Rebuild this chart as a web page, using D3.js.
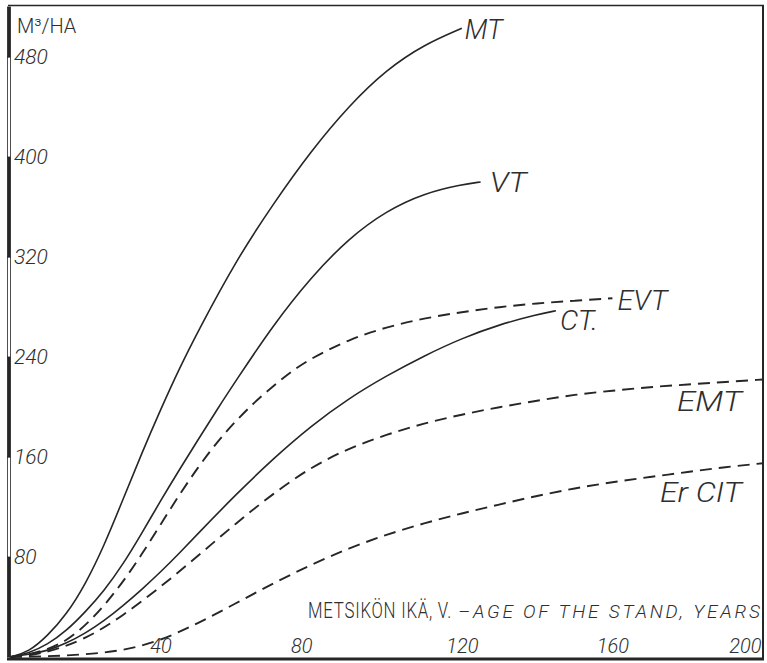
<!DOCTYPE html>
<html>
<head>
<meta charset="utf-8">
<script src="https://cdn.jsdelivr.net/npm/d3@7"></script>
<style>
  html, body { margin: 0; padding: 0; background: #fff; }
  svg { display: block; }
  text { font-family: Roboto, "Liberation Sans", sans-serif; font-weight: 300; fill: #2e2e2e; }
  .lbl { font-style: italic; }
  .tick text { font-style: italic; }
</style>
</head>
<body>
<script>
// Growing stock (m³/ha) by stand age for each forest site type
const ages_MT    = [0, 5, 10, 15, 20, 25, 30, 35, 40, 45, 50, 60, 70, 80, 90, 100, 110, 120];
const volume_MT  = [0, 4, 17, 34, 58, 89, 126, 163, 198, 231, 261, 317, 363, 405, 441, 470, 490, 503];

const ages_VT    = [0, 5, 10, 15, 20, 25, 30, 35, 40, 45, 50, 55, 60, 70, 80, 90, 100, 110, 120, 125];
const volume_VT  = [0, 3, 10, 21, 36, 53, 74, 99, 125, 150, 174, 198, 221, 266, 304, 335, 357, 371, 378, 380];

const ages_EVT   = [0, 5, 10, 15, 20, 25, 30, 35, 40, 45, 50, 55, 60, 65, 70, 75, 80, 90, 100, 110, 120, 130, 140, 150, 160];
const volume_EVT = [0, 2, 6, 13, 25, 41, 60, 82, 106, 130, 152, 172, 189, 204, 217, 229, 239, 254, 264, 271, 276, 280, 283, 285, 287];

const ages_CT    = [0, 5, 10, 15, 20, 25, 30, 35, 40, 45, 50, 60, 70, 80, 90, 100, 110, 120, 130, 140, 145];
const volume_CT  = [0, 2, 5, 11, 19, 29, 41, 54, 68, 83, 99, 130, 159, 185, 207, 225, 241, 255, 266, 274, 277];

const ages_EMT   = [0, 5, 10, 20, 30, 40, 50, 60, 70, 80, 90, 100, 110, 120, 130, 140, 150, 160, 170, 180, 190, 200];
const volume_EMT = [0, 1, 4, 14, 33, 56, 81, 107, 131, 152, 167, 178, 187, 194, 200, 205, 210, 213, 216, 218, 220, 222];

const ages_ErCIT   = [0, 10, 20, 30, 40, 50, 60, 70, 80, 90, 100, 110, 120, 130, 140, 150, 160, 170, 180, 190, 200];
const volume_ErCIT = [0, 0.5, 2, 5, 13, 27, 43, 59, 74, 87, 98, 107, 115, 122, 129, 135, 140, 144, 148, 152, 155];

const seriesNames = ["MT", "VT", "EVT", "CT", "EMT", "ErCIT"];
const seriesLabels = ["MT", "VT", "EVT", "CT.", "EMT", "Er CIT"];
const seriesDashed = [false, false, true, false, true, true];

const xTicks = [40, 80, 120, 160, 200];
const yTicks = [80, 160, 240, 320, 400, 480];
const yUnit = "M³/HA";
const xTitleFi = "METSIKÖN IKÄ, V.";
const xTitleEn = "–AGE OF THE STAND, YEARS";

const W = 767, H = 663;
const svg = d3.select("body").append("svg").attr("width", W).attr("height", H);

const x = d3.scaleLinear().domain([0, 200]).range([10, 763]);
const y = d3.scaleLinear().domain([0, 520]).range([657, 7]);

const ink = "#262626";

// frame
svg.append("line").attr("x1", 8).attr("x2", 764).attr("y1", 5.5).attr("y2", 5.5)
  .attr("stroke", ink).attr("stroke-width", 1.6);
svg.append("line").attr("x1", 763).attr("x2", 763).attr("y1", 5).attr("y2", 660)
  .attr("stroke", ink).attr("stroke-width", 2);
svg.append("line").attr("x1", 7).attr("x2", 764).attr("y1", 659).attr("y2", 659)
  .attr("stroke", ink).attr("stroke-width", 3);

// alternating scale bar along the value axis
const barEdges = [0].concat(yTicks).concat([y.domain()[1]]);
const bars = d3.pairs(barEdges).map((p, i) => ({ lo: p[0], hi: p[1], dark: i % 2 === 0 }));
svg.append("g").selectAll("rect").data(bars).join("rect")
  .attr("x", 7.5).attr("width", 3)
  .attr("y", d => y(d.hi)).attr("height", d => y(d.lo) - y(d.hi))
  .attr("fill", d => d.dark ? ink : "#fff")
  .attr("stroke", ink).attr("stroke-width", 0.8);

// value axis labels
const yAxis = svg.append("g").attr("transform", "translate(13,0)")
  .call(d3.axisRight(y).tickValues(yTicks).tickSize(0).tickPadding(1).tickFormat(d3.format("d")));
yAxis.select(".domain").remove();
yAxis.selectAll("text").attr("font-size", 21).attr("dy", "0.32em");

// age axis labels
const xAxis = svg.append("g").attr("transform", "translate(0,653)")
  .call(d3.axisBottom(x).tickValues(xTicks).tickSize(0).tickPadding(0).tickFormat(d3.format("d")));
xAxis.select(".domain").remove();
xAxis.selectAll("text").attr("font-size", 20).attr("dy", 0)
  .attr("text-anchor", d => d === 200 ? "end" : "middle")
  .attr("dx", d => d === 200 ? -2 : (d === 80 ? -10 : 0));

// unit
svg.append("text").attr("x", 17).attr("y", 33).attr("font-size", 20).text(yUnit);

// axis title: Finnish part condensed horizontally to its slot, English part in italics
const fiTitle = svg.append("text").attr("font-size", 22).attr("letter-spacing", 1).text(xTitleFi);
const fiNatural = fiTitle.node().getComputedTextLength();
fiTitle.attr("transform", `translate(308,618) scale(${144 / fiNatural},1)`);
svg.append("text").attr("x", 458).attr("y", 618)
  .attr("font-style", "italic").attr("font-size", 19)
  .attr("textLength", 302).attr("lengthAdjust", "spacing").text(xTitleEn);

// growth curves
const allAges = [ages_MT, ages_VT, ages_EVT, ages_CT, ages_EMT, ages_ErCIT];
const allVols = [volume_MT, volume_VT, volume_EVT, volume_CT, volume_EMT, volume_ErCIT];
const series = seriesNames.map((name, i) => ({
  name, label: seriesLabels[i], dashed: seriesDashed[i],
  pts: allAges[i].map((a, j) => [a, allVols[i][j]])
}));

const line = d3.line().x(d => x(d[0])).y(d => y(d[1])).curve(d3.curveBasis);

svg.append("g").selectAll("path").data(series).join("path")
  .attr("d", d => line(d.pts))
  .attr("fill", "none")
  .attr("stroke", ink)
  .attr("stroke-width", d => d.dashed ? 1.9 : 1.6)
  .attr("stroke-dasharray", d => d.dashed ? "12,7" : null);

// curve labels at the end of each curve
const labelPlace = {
  MT:    { dx: 3,    dy: 11, len: 38 },
  VT:    { dx: 9,    dy: 10, len: 37 },
  EVT:   { dx: 5,    dy: 12, len: 50 },
  CT:    { dx: 4,    dy: 19, len: 38 },
  EMT:   { dx: -86,  dy: 31, len: 65 },
  ErCIT: { dx: -103, dy: 39, len: 82 }
};
svg.append("g").selectAll("text").data(series).join("text")
  .attr("class", "lbl")
  .attr("x", d => x(d.pts[d.pts.length - 1][0]) + labelPlace[d.name].dx)
  .attr("y", d => y(d.pts[d.pts.length - 1][1]) + labelPlace[d.name].dy)
  .attr("font-size", 27)
  .attr("textLength", d => labelPlace[d.name].len)
  .attr("lengthAdjust", "spacingAndGlyphs")
  .text(d => d.label);
</script>
</body>
</html>
